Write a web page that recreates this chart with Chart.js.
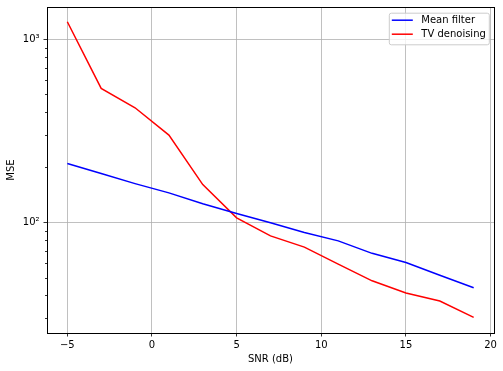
<!DOCTYPE html>
<html><head><meta charset="utf-8">
<script src="https://cdn.jsdelivr.net/npm/chart.js@4.4.1/dist/chart.umd.min.js"></script>
<style>html,body{margin:0;padding:0;background:#fff}canvas{display:block}</style>
</head><body>
<canvas id="c" width="503" height="371"></canvas>
<script>
// ---- data ----
const snr = [-5, -3, -1, 1, 3, 5, 7, 9, 11, 13, 15, 17, 19];
const meanFilter = [210, 185, 163, 145, 126.5, 112, 99.5, 88.2, 79.3, 67.8, 60.4, 51.5, 44.0];
const tvDenoising = [1248, 540, 423, 300, 161, 106, 84.5, 73.3, 59.2, 48.0, 41.2, 37.2, 30.3];
const seriesLabels = ['Mean filter', 'TV denoising'];
const xTicks = [-5, 0, 5, 10, 15, 20];
const yMajorTicks = [100, 1000];
const yMinorTicks = [30, 40, 50, 60, 70, 80, 90, 200, 300, 400, 500, 600, 700, 800, 900];
const yTickLabels = {100: '10\u00B2', 1000: '10\u00B3'};
const xRange = [-6.2, 20.2];
const yRange = [24.9, 1502];

const FONT = {family: '"DejaVu Sans", sans-serif', size: 10};

const toPts = (ys) => snr.map((x, i) => ({x: x, y: ys[i]}));

const frameAndLegend = {
  id: 'frameAndLegend',
  afterDraw(chart) {
    const ctx = chart.ctx;
    const a = chart.chartArea;
    const ys = chart.scales.y;
    ctx.save();
    // minor ticks on y
    ctx.strokeStyle = '#000';
    ctx.lineWidth = 0.8;
    yMinorTicks.forEach(v => {
      const py = Math.round(ys.getPixelForValue(v)) + 0.5;
      ctx.beginPath();
      ctx.moveTo(a.left - 2, py);
      ctx.lineTo(a.left, py);
      ctx.stroke();
    });
    // frame (four spines)
    ctx.lineWidth = 1;
    ctx.strokeStyle = '#000';
    ctx.strokeRect(Math.round(a.left) + 0.5, Math.round(a.top) + 0.5,
                   Math.round(a.right - a.left), Math.round(a.bottom - a.top));
    // legend
    const bw = 100, bh = 31.6;
    const bx = a.right - 5.2 - bw, by = a.top + 5.7;
    ctx.beginPath();
    if (ctx.roundRect) ctx.roundRect(bx + 0.5, by + 0.5, bw, bh, 2); else ctx.rect(bx + 0.5, by + 0.5, bw, bh);
    ctx.fillStyle = 'rgba(255,255,255,0.8)';
    ctx.fill();
    ctx.strokeStyle = '#cccccc';
    ctx.lineWidth = 1;
    ctx.stroke();
    ctx.font = '10px "DejaVu Sans", sans-serif';
    ctx.textBaseline = 'middle';
    ctx.textAlign = 'left';
    chart.data.datasets.forEach((ds, i) => {
      const ly = by + 7.5 + i * 14;
      ctx.strokeStyle = ds.borderColor;
      ctx.lineWidth = 1.5;
      ctx.beginPath();
      ctx.moveTo(bx + 3, ly);
      ctx.lineTo(bx + 24, ly);
      ctx.stroke();
      ctx.fillStyle = '#000';
      ctx.fillText(ds.label, bx + 32.5, ly + 0.5);
    });
    ctx.restore();
  }
};

new Chart(document.getElementById('c'), {
  type: 'line',
  data: {
    datasets: [
      {label: seriesLabels[0], data: toPts(meanFilter), borderColor: '#0000ff', borderWidth: 1.5, pointRadius: 0, tension: 0, fill: false},
      {label: seriesLabels[1], data: toPts(tvDenoising), borderColor: '#ff0000', borderWidth: 1.5, pointRadius: 0, tension: 0, fill: false}
    ]
  },
  options: {
    responsive: false,
    animation: false,
    devicePixelRatio: 1,
    layout: {padding: {left: 0, top: 7, right: 9, bottom: 0}},
    plugins: {legend: {display: false}, tooltip: {enabled: false}},
    scales: {
      x: {
        type: 'linear',
        min: xRange[0], max: xRange[1],
        bounds: 'data',
        afterBuildTicks: (s) => { s.ticks = xTicks.map(v => ({value: v})); },
        afterFit: (s) => { s.height = 38; s.paddingLeft = 0; s.paddingRight = 0; },
        ticks: {
          autoSkip: false, maxRotation: 0, padding: 3,
          color: '#000', font: FONT,
          callback: (v) => (v < 0 ? '\u2212' + Math.abs(v) : String(v))
        },
        grid: {color: '#b0b0b0', lineWidth: 0.8, drawTicks: true, tickLength: 3.5, tickColor: '#000', tickWidth: 0.8},
        border: {display: false},
        title: {display: true, text: 'SNR (dB)', color: '#000', font: FONT, padding: {top: 0, bottom: 6}}
      },
      y: {
        type: 'logarithmic',
        min: yRange[0], max: yRange[1],
        bounds: 'data',
        afterBuildTicks: (s) => { s.ticks = yMajorTicks.map(v => ({value: v})); },
        afterFit: (s) => { s.width = 47; s.paddingTop = 0; s.paddingBottom = 0; },
        ticks: {
          autoSkip: false, padding: 4,
          color: '#000', font: FONT,
          callback: (v) => yTickLabels[v] || ''
        },
        grid: {color: '#b0b0b0', lineWidth: 0.8, drawTicks: true, tickLength: 3.5, tickColor: '#000', tickWidth: 0.8},
        border: {display: false},
        title: {display: true, text: 'MSE', color: '#000', font: FONT, padding: {top: 5, bottom: 0}}
      }
    }
  },
  plugins: [frameAndLegend]
});
</script>
</body></html>
